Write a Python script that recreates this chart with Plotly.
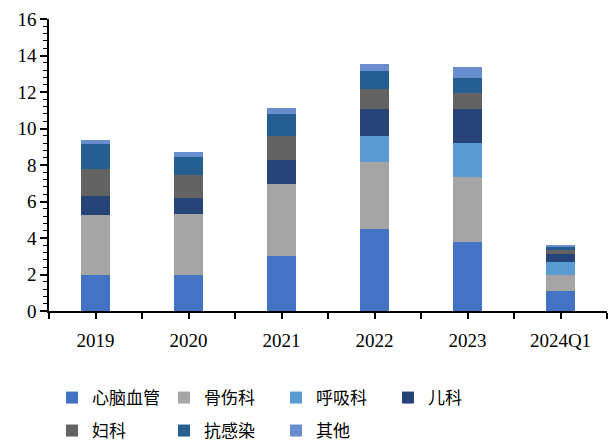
import plotly.graph_objects as go

categories = ["2019", "2020", "2021", "2022", "2023", "2024Q1"]
series_names = ["心脑血管", "骨伤科", "呼吸科", "儿科", "妇科", "抗感染", "其他"]
cardio = [2.0, 2.0, 3.0, 4.5, 3.8, 1.08]
ortho = [3.25, 3.32, 3.98, 3.69, 3.56, 0.91]
resp = [0.0, 0.0, 0.0, 1.38, 1.83, 0.67]
pediatric = [1.03, 0.85, 1.3, 1.52, 1.88, 0.49]
gyn = [1.5, 1.28, 1.3, 1.06, 0.9, 0.21]
anti_inf = [1.37, 1.01, 1.2, 0.98, 0.78, 0.18]
other = [0.2, 0.26, 0.32, 0.42, 0.61, 0.09]
colors = ["#4472C4", "#A5A5A5", "#5B9BD5", "#264478", "#636363", "#255E91", "#698ED0"]
y_ticks = [0, 2, 4, 6, 8, 10, 12, 14, 16]

values = [cardio, ortho, resp, pediatric, gyn, anti_inf, other]
xs = list(range(len(categories)))

fig = go.Figure()
for i, (name, vals, col) in enumerate(zip(series_names, values, colors)):
    fig.add_trace(go.Bar(
        x=xs, y=vals, name=name, width=0.315,
        marker=dict(color=col, line=dict(width=0)),
        legend="legend" if i < 4 else "legend2",
    ))

tickvals = []
ticktext = []
for k in range(len(categories) * 2 + 1):
    v = -0.5 + k * 0.5
    tickvals.append(v)
    ticktext.append(categories[int(v)] if v == int(v) and 0 <= v < len(categories) else "")

serif = "Liberation Serif, Times New Roman, serif"
cjk = "Noto Sans CJK SC"
legend_common = dict(
    orientation="h", xanchor="left", yanchor="middle",
    xref="container", yref="container",
    font=dict(family=cjk, size=17, color="#000000"),
    entrywidth=67, entrywidthmode="pixels",
    bgcolor="rgba(0,0,0,0)", itemclick=False, traceorder="normal",
)

fig.update_layout(
    width=616, height=441,
    margin=dict(l=49, r=9, t=16, b=130),
    paper_bgcolor="white", plot_bgcolor="white",
    barmode="stack",
    showlegend=True,
    legend=dict(x=52 / 616, y=1 - 398 / 441, **legend_common),
    legend2=dict(x=52 / 616, y=1 - 431 / 441, **legend_common),
    xaxis=dict(
        range=[-0.5, len(categories) - 0.5],
        tickmode="array", tickvals=tickvals, ticktext=ticktext,
        ticks="outside", ticklen=6, tickwidth=1.5, tickcolor="#000000",
        showline=True, linecolor="#000000", linewidth=1.5,
        showgrid=False, zeroline=False, ticklabelstandoff=5,
        tickfont=dict(family=serif, size=19, color="#000000"),
    ),
    yaxis=dict(
        range=[0, 16],
        tickmode="array", tickvals=y_ticks,
        ticks="outside", ticklen=7, tickwidth=1.5, tickcolor="#000000",
        showline=True, linecolor="#000000", linewidth=1.5,
        showgrid=False, zeroline=False,
        tickfont=dict(family=serif, size=19, color="#000000"),
        minor=dict(dtick=0.4, ticks="outside", ticklen=4, tickwidth=1, tickcolor="#000000", showgrid=False),
    ),
)

fig.write_html("out.html")
